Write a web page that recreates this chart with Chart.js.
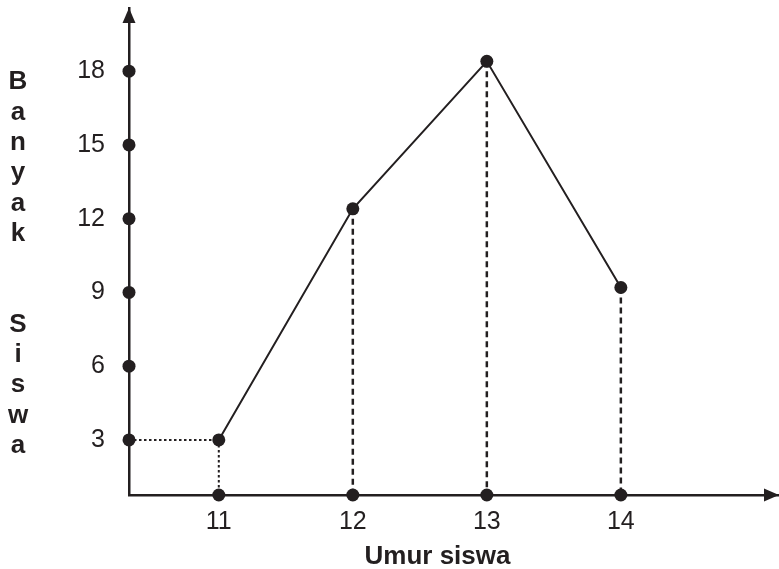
<!DOCTYPE html>
<html>
<head>
<meta charset="utf-8">
<script src="https://cdn.jsdelivr.net/npm/chart.js@4/dist/chart.umd.min.js"></script>
<style>
  body { margin: 0; background: #fff; }
  canvas { display: block; }
</style>
</head>
<body>
<canvas id="chart" width="779" height="569"></canvas>
<script>
// data
const ages = [11, 12, 13, 14];
const students = [3, 12.4, 18.4, 9.2];
const yTicks = [3, 6, 9, 12, 15, 18];
const xLabel = 'Umur siswa';
const yLabel = 'Banyak  Siswa';

const ink = '#231f20';
const xMin = 10.33, xMax = 15.18;
const yMin = 0.76, yMax = 20.57;

const points = ages.map((a, i) => ({ x: a, y: students[i] }));

// dashed drop lines from each point down to the x axis
const dropLines = ages.map((a, i) => ({
  data: [{ x: a, y: students[i] }, { x: a, y: yMin }],
  borderColor: ink,
  borderWidth: i === 0 ? 2 : 2.5,
  borderDash: i === 0 ? [2.5, 2.5] : [6, 4],
  pointRadius: 0,
  showLine: true,
  clip: false,
  order: 2
}));

// dotted guide from the y axis to the first point
const guide = {
  data: [{ x: xMin, y: students[0] }, { x: ages[0], y: students[0] }],
  borderColor: ink,
  borderWidth: 2,
  borderDash: [2.5, 2.5],
  pointRadius: 0,
  showLine: true,
  clip: false,
  order: 2
};

// round markers sitting on the axes
const axisDots = {
  data: yTicks.map(v => ({ x: xMin, y: v })).concat(ages.map(a => ({ x: a, y: yMin }))),
  showLine: false,
  pointRadius: 6.5,
  pointBackgroundColor: ink,
  pointBorderWidth: 0,
  clip: false,
  order: 1
};

const mainLine = {
  data: points,
  showLine: true,
  borderColor: ink,
  borderWidth: 2,
  pointRadius: 6.5,
  pointBackgroundColor: ink,
  pointBorderWidth: 0,
  clip: false,
  order: 0
};

const extras = {
  id: 'extras',
  afterDraw(chart) {
    const ctx = chart.ctx;
    const a = chart.chartArea;
    ctx.save();
    ctx.fillStyle = ink;
    // arrow heads
    ctx.beginPath();
    ctx.moveTo(a.left, a.top);
    ctx.lineTo(a.left - 6.5, a.top + 15);
    ctx.lineTo(a.left + 6.5, a.top + 15);
    ctx.closePath();
    ctx.fill();
    ctx.beginPath();
    ctx.moveTo(a.right, a.bottom);
    ctx.lineTo(a.right - 15, a.bottom - 6.5);
    ctx.lineTo(a.right - 15, a.bottom + 6.5);
    ctx.closePath();
    ctx.fill();
    // axis titles
    ctx.font = 'bold 26px "Liberation Sans", Arial, sans-serif';
    ctx.textAlign = 'center';
    ctx.textBaseline = 'alphabetic';
    ctx.fillText(xLabel, 437.5, 564);
    yLabel.split('').forEach((ch, i) => {
      if (ch !== ' ') ctx.fillText(ch, 18, 89.3 + i * 30.3);
    });
    ctx.restore();
  }
};

const noPad = s => {
  s.paddingTop = 0; s.paddingBottom = 0; s.paddingLeft = 0; s.paddingRight = 0;
};

new Chart(document.getElementById('chart'), {
  type: 'scatter',
  data: { datasets: [mainLine, axisDots, guide].concat(dropLines) },
  options: {
    responsive: false,
    animation: false,
    layout: { autoPadding: false, padding: { top: 8, right: 0, left: 0, bottom: 0 } },
    plugins: { legend: { display: false }, tooltip: { enabled: false } },
    scales: {
      x: {
        type: 'linear',
        min: xMin,
        max: xMax,
        afterFit: s => { s.height = 74; noPad(s); },
        afterBuildTicks: s => { s.ticks = ages.map(v => ({ value: v })); },
        grid: { display: false, drawTicks: false },
        border: { display: true, color: ink, width: 2.5 },
        ticks: {
          color: ink,
          padding: 12,
          font: { family: '"Liberation Sans", Arial, sans-serif', size: 25 },
          callback: v => String(v)
        }
      },
      y: {
        type: 'linear',
        min: yMin,
        max: yMax,
        afterFit: s => { s.width = 129; noPad(s); },
        afterBuildTicks: s => { s.ticks = yTicks.map(v => ({ value: v })); },
        grid: { display: false, drawTicks: false },
        border: { display: true, color: ink, width: 2.5 },
        ticks: {
          color: ink,
          padding: 24,
          font: { family: '"Liberation Sans", Arial, sans-serif', size: 25 },
          callback: v => String(v)
        }
      }
    }
  },
  plugins: [extras]
});
</script>
</body>
</html>
